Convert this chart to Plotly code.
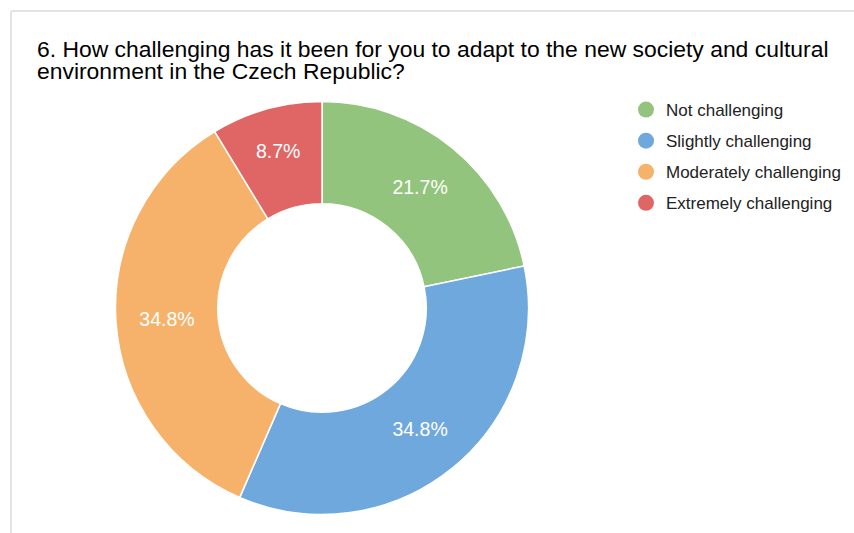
import plotly.graph_objects as go

categories = ["Not challenging", "Slightly challenging", "Moderately challenging", "Extremely challenging"]
counts = [5, 8, 8, 2]
colors = ["#93c47d", "#6fa8dc", "#f6b26b", "#e06666"]
title_lines = ["6. How challenging has it been for you to adapt to the new society and cultural",
               "environment in the Czech Republic?"]

W, H = 854, 533
cx, cy, R = 322, 308, 206.5
FONT = "Liberation Sans, Arial"

fig = go.Figure()
fig.add_trace(go.Pie(
    labels=categories, values=counts, sort=False, direction="clockwise", rotation=0,
    hole=0.505,
    marker=dict(colors=colors, line=dict(color="white", width=1.5)),
    textinfo="percent", texttemplate="%{percent:.1%}", textposition="inside",
    insidetextorientation="horizontal",
    textfont=dict(color="white", size=19.5, family=FONT),
    showlegend=False,
    domain=dict(x=[(cx - R) / W, (cx + R) / W], y=[(H - cy - R) / H, (H - cy + R) / H]),
))
for i, (name, col) in enumerate(zip(categories, colors)):
    fig.add_trace(go.Scatter(
        x=[None], y=[None], mode="markers", name=name, legendgroup=str(i),
        marker=dict(symbol="circle", size=17, color=col),
    ))

annotations = []
for k, line in enumerate(title_lines):
    baseline = 57 + 22 * k
    annotations.append(dict(
        text=line, xref="paper", yref="paper", x=35 / W, xanchor="left",
        y=1 - (baseline - 8) / H, yanchor="middle", showarrow=False,
        font=dict(family=FONT, size=22.9, color="#000000"),
    ))

fig.update_layout(
    width=W, height=H,
    margin=dict(l=0, r=0, t=0, b=0),
    paper_bgcolor="white", plot_bgcolor="white",
    xaxis=dict(visible=False), yaxis=dict(visible=False),
    annotations=annotations,
    legend=dict(x=626 / W, y=1 - 92 / H, xanchor="left", yanchor="top",
                font=dict(family=FONT, size=17, color="#222222"),
                tracegroupgap=6, bgcolor="rgba(0,0,0,0)"),
    shapes=[
        dict(type="line", xref="paper", yref="paper", x0=11 / W, x1=1, y0=1 - 11 / H, y1=1 - 11 / H,
             line=dict(color="#e3e3e3", width=2)),
        dict(type="line", xref="paper", yref="paper", x0=11 / W, x1=11 / W, y0=1 - 11 / H, y1=0,
             line=dict(color="#e3e3e3", width=2)),
    ],
)

fig.write_html("out.html")
